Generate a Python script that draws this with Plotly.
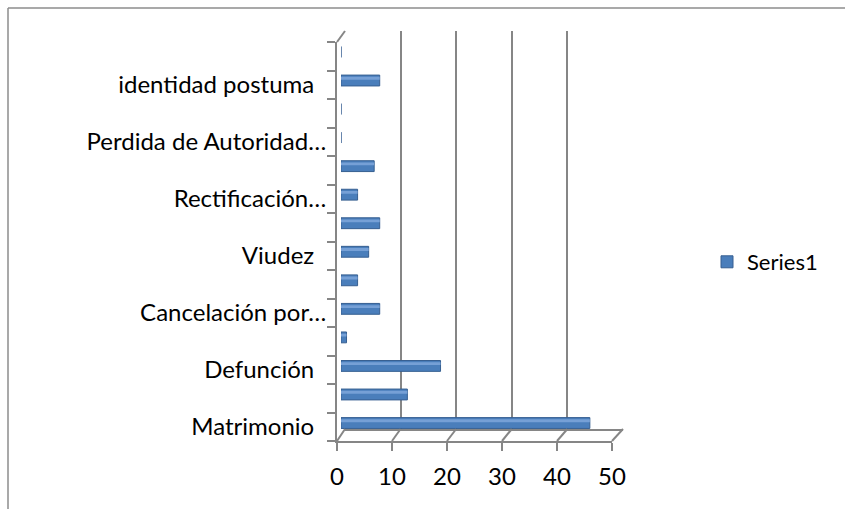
import plotly.graph_objects as go

# ---- data (bottom to top) ----
categories = ["Matrimonio ", "", "Defunción ", "", "Cancelación por…", "",
              "Viudez ", "", "Rectificación…", "", "Perdida de Autoridad…", "",
              "identidad postuma ", ""]
values = [45, 12, 18, 1, 7, 3, 5, 7, 3, 6, 0, 0, 7, 0]
series_name = "Series1"
x_ticks = [0, 10, 20, 30, 40, 50]

W, H = 845, 509
def px(x):
    return x / W
def py(y):
    return 1 - y / H

FONT = "Lato"
GRAY = "#868686"
n = len(categories)
idx = list(range(n))

# front plane
FX0, FX1, FY0, FY1 = 337, 612, 441, 42
# back plane
BX0, BX1, BY0, BY1 = 345, 623, 429, 31
# bar plane (mid depth)
MX0, MX1, MY0, MY1 = 341, 617.5, 437.3, 37.7

label_vals = [i for i, c in enumerate(categories) if c.strip()]
label_text = [categories[i].rstrip() + ("\u2002" if categories[i].endswith(" ") else "")
              for i in label_vals]

fig = go.Figure()
fig.add_trace(go.Bar(
    x=values, y=idx, orientation="h", name=series_name,
    width=0.38, offset=-0.19,
    marker=dict(color="#4A7EBB", line=dict(color="#365F91", width=1)),
    xaxis="x3", yaxis="y3", showlegend=True,
))
fig.add_trace(go.Bar(
    x=values, y=idx, orientation="h", name=series_name,
    width=0.1, offset=0.03,
    marker=dict(color="#76A0D6", line=dict(width=0)),
    xaxis="x3", yaxis="y3", showlegend=False, hoverinfo="skip",
))
# invisible traces so the other axes render
fig.add_trace(go.Scatter(x=[0], y=[0], xaxis="x", yaxis="y", mode="markers",
                         marker=dict(opacity=0), showlegend=False, hoverinfo="skip"))
fig.add_trace(go.Scatter(x=[0], y=[0], xaxis="x2", yaxis="y2", mode="markers",
                         marker=dict(opacity=0), showlegend=False, hoverinfo="skip"))

shapes = []
# floor diagonals from front ticks to back gridlines
for v in x_ticks:
    fx = FX0 + (FX1 - FX0) * v / 50
    bx = BX0 + (BX1 - BX0) * v / 50
    shapes.append(dict(type="line", xref="paper", yref="paper",
                       x0=px(fx), y0=py(FY0), x1=px(bx), y1=py(BY0),
                       line=dict(color=GRAY, width=2)))
# top-left wall diagonal
shapes.append(dict(type="line", xref="paper", yref="paper",
                   x0=px(FX0), y0=py(FY1), x1=px(BX0), y1=py(BY1),
                   line=dict(color=GRAY, width=2)))
# chart border (top and left edges; the rest lies outside the picture)
shapes.append(dict(type="line", xref="paper", yref="paper",
                   x0=px(8), y0=py(8), x1=1, y1=py(8),
                   line=dict(color="#8C8C8C", width=1.5)))
shapes.append(dict(type="line", xref="paper", yref="paper",
                   x0=px(8), y0=py(8), x1=px(8), y1=0,
                   line=dict(color="#8C8C8C", width=1.5)))

fig.update_layout(
    width=W, height=H,
    margin=dict(l=0, r=0, t=0, b=0, autoexpand=False),
    paper_bgcolor="white", plot_bgcolor="rgba(0,0,0,0)",
    font=dict(family=FONT, size=24, color="#000000"),
    barmode="overlay",
    showlegend=True,
    legend=dict(x=px(707), y=py(262), xanchor="left", yanchor="middle",
                font=dict(size=22), bgcolor="rgba(0,0,0,0)", itemwidth=30),
    shapes=shapes,
    # front axes
    xaxis=dict(domain=[px(FX0), px(FX1)], range=[0, 50], anchor="y",
               tickvals=x_ticks, ticks="outside", ticklen=8, tickwidth=2,
               tickcolor=GRAY, showline=True, linecolor=GRAY, linewidth=2,
               showgrid=False, zeroline=False, fixedrange=True, automargin=False,
               ticklabelstandoff=5, tickfont=dict(size=24)),
    yaxis=dict(domain=[py(FY0), py(FY1)], range=[-0.5, n - 0.5], anchor="x",
               tickvals=label_vals, ticktext=label_text, ticks="",
               minor=dict(tickvals=[i - 0.5 for i in range(n + 1)], ticks="outside",
                          ticklen=8, tickwidth=2, tickcolor=GRAY, showgrid=False),
               showline=True, linecolor=GRAY, linewidth=2, automargin=False,
               showgrid=False, zeroline=False, fixedrange=True,
               ticklabelstandoff=4, tickfont=dict(size=24)),
    # back plane
    xaxis2=dict(domain=[px(BX0), px(BX1)], range=[0, 50], anchor="y2",
                tickvals=x_ticks, showticklabels=False, ticks="",
                showgrid=True, gridcolor=GRAY, gridwidth=2,
                showline=True, linecolor=GRAY, linewidth=2,
                zeroline=False, fixedrange=True),
    yaxis2=dict(domain=[py(BY0), py(BY1)], range=[0, 1], anchor="x2",
                showticklabels=False, showgrid=False, zeroline=False,
                showline=False, fixedrange=True),
    # bar plane
    xaxis3=dict(domain=[px(MX0), px(MX1)], range=[0, 50], anchor="y3",
                showticklabels=False, showgrid=False, zeroline=False,
                showline=False, fixedrange=True),
    yaxis3=dict(domain=[py(MY0), py(MY1)], range=[-0.5, n - 0.5], anchor="x3",
                showticklabels=False, showgrid=False, zeroline=False,
                showline=False, fixedrange=True),
)

fig.write_html("out.html", config={"displayModeBar": False},
               post_script="document.body.style.margin='0';document.body.style.overflow='hidden';")
